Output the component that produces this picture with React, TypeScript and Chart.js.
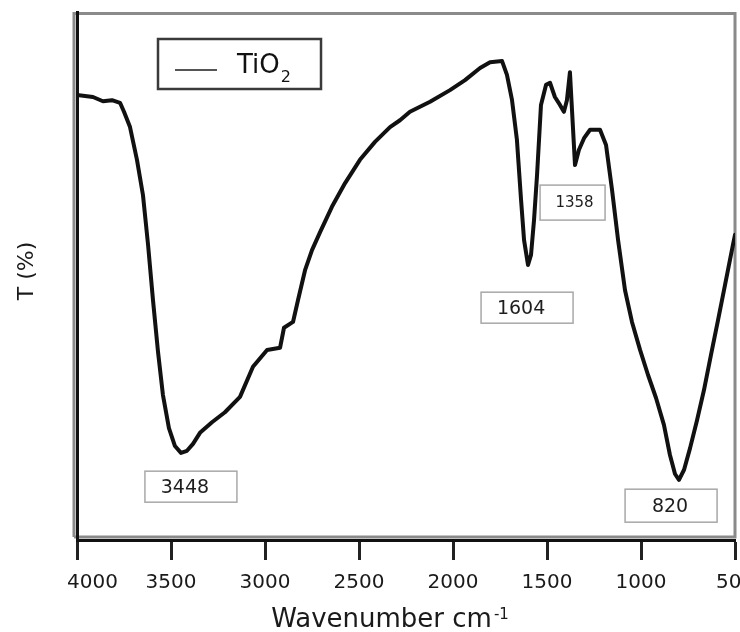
import { useEffect, useRef } from "react";
import { Chart, registerables } from "chart.js";
Chart.register(...registerables);

// FTIR spectrum of TiO2
const wavenumbers = [
  4000, 3915, 3862, 3814, 3771, 3750, 3718, 3681, 3649, 3622, 3596, 3569, 3543, 3511, 3479, 3447,
  3415, 3383, 3346, 3282, 3213, 3133, 3064, 2989, 2920, 2899, 2851, 2824, 2787, 2750, 2707, 2644,
  2574, 2495, 2415, 2335, 2282, 2229, 2122, 2016, 1936, 1856, 1803, 1739, 1713, 1686, 1660, 1638,
  1622, 1601, 1585, 1569, 1553, 1532, 1505, 1484, 1458, 1431, 1410, 1394, 1378, 1367, 1351, 1330,
  1303, 1271, 1218, 1186, 1154, 1122, 1085, 1048, 1005, 963, 920, 878, 846, 819, 798, 771, 739,
  702, 665, 628, 590, 553, 511, 500,
];
const transmittance = [
  84.3, 83.9, 83.1, 83.3, 82.8, 81.1, 78.2, 72.0, 65.3, 55.9, 45.5, 35.6, 27.5, 21.2, 17.8, 16.5,
  16.9, 18.2, 20.3, 22.3, 24.2, 27.1, 32.8, 36.0, 36.4, 40.2, 41.3, 45.5, 51.1, 54.9, 58.3, 63.1,
  67.6, 72.0, 75.4, 78.2, 79.5, 81.1, 83.0, 85.2, 87.1, 89.4, 90.5, 90.7, 88.1, 83.3, 75.8, 64.4,
  56.8, 52.1, 54.0, 60.6, 69.1, 82.4, 86.2, 86.6, 83.9, 82.4, 81.1, 83.3, 88.6, 81.4, 71.0, 73.9,
  76.1, 77.7, 77.7, 74.8, 66.3, 56.8, 47.3, 41.3, 36.0, 31.3, 26.9, 21.8, 16.1, 12.5, 11.4, 13.3, 17.4,
  22.7, 28.4, 35.0, 41.7, 48.3, 55.9, 57.8,
];
const xTicks = [4000, 3500, 3000, 2500, 2000, 1500, 1000, 500];
const seriesName = "TiO";
const seriesSub = "2";
const xTitle = "Wavenumber cm";
const xTitleSup = "-1";
const yTitle = "T (%)";

// peak annotation labels and where their boxes sit (wavenumber, T)
const peakLabels = ["3448", "1604", "1358", "820"];
const peakBoxWn = [3394, 1606, 1364, 840];
const peakBoxT = [10.1, 44.0, 63.9, 6.5];

// styles of the annotation boxes
const peakBoxSize = [
  [92, 31],
  [92, 31],
  [65, 35],
  [92, 33],
];
const peakFont = [19, 19, 15, 19];
const peakTextDx = [-6, -6, 2, -1];

const FONT = "'DejaVu Sans', sans-serif";

const decorPlugin = {
  id: "decor",
  beforeDraw(chart: any) {
    const { ctx, chartArea: ca } = chart;
    ctx.save();
    ctx.strokeStyle = "#8a8a8a";
    ctx.lineWidth = 3;
    ctx.beginPath();
    ctx.moveTo(ca.left - 3, ca.bottom - 3);
    ctx.lineTo(ca.left - 3, ca.top + 1.5);
    ctx.lineTo(ca.right, ca.top + 1.5);
    ctx.lineTo(ca.right, ca.bottom - 3);
    ctx.lineTo(ca.left - 3, ca.bottom - 3);
    ctx.stroke();
    ctx.restore();
  },
  afterDraw(chart: any) {
    const { ctx, chartArea: ca } = chart;
    const xs = chart.scales.x;
    const ys = chart.scales.y;
    ctx.save();

    // x tick labels
    ctx.fillStyle = "#1a1a1a";
    ctx.font = `20px ${FONT}`;
    ctx.textAlign = "center";
    ctx.textBaseline = "alphabetic";
    xTicks.forEach((v) => {
      const label = String(v);
      const w = ctx.measureText(label).width;
      const px = Math.max(xs.getPixelForValue(v), ca.left - 10 + w / 2);
      ctx.fillText(label, px, ca.bottom + 48);
    });

    // x title
    ctx.font = `26px ${FONT}`;
    const w1 = ctx.measureText(xTitle).width;
    ctx.font = `15px ${FONT}`;
    const w2 = ctx.measureText(xTitleSup).width;
    const cx = (ca.left + ca.right) / 2 - 16;
    const sx = cx - (w1 + w2 + 2) / 2;
    ctx.textAlign = "left";
    ctx.font = `26px ${FONT}`;
    ctx.fillText(xTitle, sx, ca.bottom + 87);
    ctx.font = `15px ${FONT}`;
    ctx.fillText(xTitleSup, sx + w1 + 2, ca.bottom + 79);

    // y title
    ctx.save();
    ctx.translate(27, (ca.top + ca.bottom) / 2 - 5);
    ctx.rotate(-Math.PI / 2);
    ctx.font = `22px ${FONT}`;
    ctx.textAlign = "center";
    ctx.textBaseline = "middle";
    ctx.fillText(yTitle, 0, 0);
    ctx.restore();

    // legend
    const lx = ca.left + 81;
    const ly = ca.top + 27;
    ctx.strokeStyle = "#3a3a3a";
    ctx.lineWidth = 2.5;
    ctx.strokeRect(lx, ly, 163, 50);
    ctx.strokeStyle = "#555";
    ctx.lineWidth = 2;
    ctx.beginPath();
    ctx.moveTo(lx + 17, ly + 31);
    ctx.lineTo(lx + 59, ly + 31);
    ctx.stroke();
    ctx.fillStyle = "#111";
    ctx.textAlign = "left";
    ctx.textBaseline = "alphabetic";
    ctx.font = `26px ${FONT}`;
    ctx.fillText(seriesName, lx + 79, ly + 34);
    const nw = ctx.measureText(seriesName).width;
    ctx.font = `16px ${FONT}`;
    ctx.fillText(seriesSub, lx + 80 + nw, ly + 43);

    // peak annotations
    peakLabels.forEach((lab, i) => {
      const bx = xs.getPixelForValue(peakBoxWn[i]);
      const by = ys.getPixelForValue(peakBoxT[i]);
      const [bw, bh] = peakBoxSize[i];
      ctx.strokeStyle = "#a8a8a8";
      ctx.lineWidth = 1.5;
      ctx.strokeRect(bx - bw / 2, by - bh / 2, bw, bh);
      ctx.fillStyle = "#1e1e1e";
      ctx.font = `${peakFont[i]}px ${FONT}`;
      ctx.textAlign = "center";
      ctx.textBaseline = "middle";
      ctx.fillText(lab, bx + peakTextDx[i], by + 1);
    });

    ctx.restore();
  },
};

export default function App() {
  const ref = useRef<HTMLCanvasElement | null>(null);
  useEffect(() => {
    if (!ref.current) return;
    const chart = new Chart(ref.current, {
      type: "line",
      data: {
        datasets: [
          {
            label: seriesName + seriesSub,
            data: wavenumbers.map((x, i) => ({ x, y: transmittance[i] })),
            borderColor: "#111",
            borderWidth: 4,
            pointRadius: 0,
            tension: 0,
            borderJoinStyle: "round",
            borderCapStyle: "round",
            fill: false,
          },
        ],
      },
      options: {
        responsive: false,
        animation: false,
        devicePixelRatio: 1,
        layout: { padding: { top: 12, right: 5, left: 0, bottom: 0 } },
        plugins: { legend: { display: false }, tooltip: { enabled: false } },
        scales: {
          x: {
            type: "linear",
            reverse: true,
            min: 500,
            max: 4000,
            afterBuildTicks: (s: any) => {
              s.ticks = xTicks.map((v) => ({ value: v }));
            },
            afterFit: (s: any) => {
              s.height = 92;
              s.paddingLeft = 0;
              s.paddingRight = 0;
            },
            ticks: { color: "rgba(0,0,0,0)", font: { size: 20 } },
            grid: {
              drawOnChartArea: false,
              drawTicks: true,
              tickLength: 20,
              tickWidth: 3,
              tickColor: "#222",
            },
            border: { display: true, color: "#111", width: 3 },
          },
          y: {
            type: "linear",
            min: 0,
            max: 100,
            afterFit: (s: any) => {
              s.width = 77;
            },
            ticks: { display: false },
            grid: { display: false },
            border: { display: true, color: "#111", width: 3 },
          },
        },
      },
      plugins: [decorPlugin],
    });
    return () => chart.destroy();
  }, []);
  return (
    <div style={{ position: "fixed", left: 0, top: 0, width: 740, height: 632, background: "#fff" }}>
      <canvas ref={ref} width={740} height={632} style={{ display: "block" }} />
    </div>
  );
}
